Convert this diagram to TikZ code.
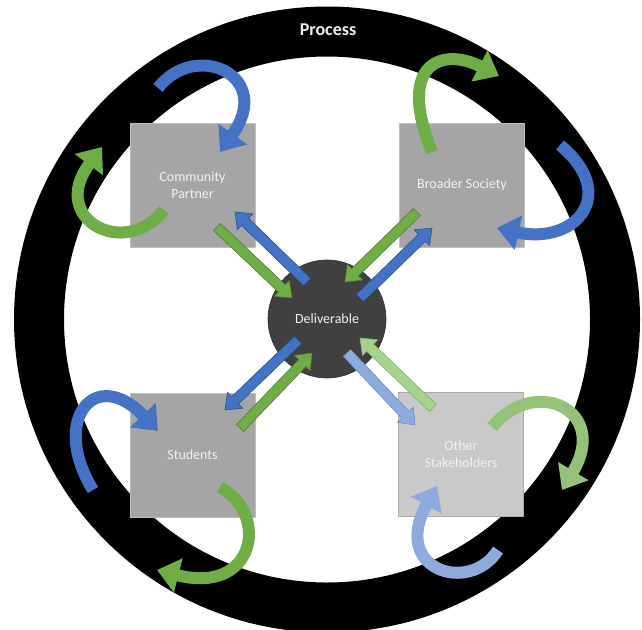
\documentclass[tikz,border=0pt]{standalone}
\usepackage{fontspec}
\setmainfont{Carlito}
\usetikzlibrary{arrows.meta,calc}

\definecolor{accBlue}{HTML}{4472C4}
\definecolor{accBlueEdge}{HTML}{2F528F}
\definecolor{accGreen}{HTML}{70AD47}
\definecolor{accGreenEdge}{HTML}{507E32}
\definecolor{softBlue}{HTML}{8FAADC}
\definecolor{softBlueEdge}{HTML}{6F8FC9}
\definecolor{softGreen}{HTML}{A9D18E}
\definecolor{softGreenEdge}{HTML}{86B36B}
\definecolor{midGreen}{HTML}{96C178}
\definecolor{boxFill}{HTML}{A5A5A5}
\definecolor{boxEdge}{HTML}{BFBFBF}
\definecolor{boxLight}{HTML}{C9C9C9}
\definecolor{boxLightEdge}{HTML}{ABABAB}
\definecolor{hubFill}{HTML}{404040}
\definecolor{hubEdge}{HTML}{2E2E2E}
\definecolor{labelText}{HTML}{F0F0F0}

% straight block arrow: #1 style, #2 tail, #3 tip
\newcommand\blockarrow[3]{%
  \coordinate (ba-h) at ($(#3)!14pt!(#2)$);
  \filldraw[#1, line width=0.6pt, line join=miter]
    ($(#2)!5pt!90:(#3)$) -- ($(ba-h)!5pt!90:(#3)$) -- ($(ba-h)!11pt!90:(#3)$)
    -- (#3)
    -- ($(ba-h)!11pt!-90:(#3)$) -- ($(ba-h)!5pt!-90:(#3)$) -- ($(#2)!5pt!-90:(#3)$)
    -- cycle;}

\begin{document}
\begin{tikzpicture}[x=1pt,y=-1pt,
  entity/.style={rectangle, draw=boxEdge, line width=0.8pt, fill=boxFill,
    minimum width=125pt, minimum height=124pt, inner sep=0pt,
    text=labelText, align=center, font=\fontsize{14}{17}\selectfont},
  hub/.style={circle, fill=hubFill, draw=hubEdge, line width=0.6pt,
    minimum size=118pt, inner sep=0pt, text=labelText,
    font=\fontsize{14}{17}\selectfont},
  cycarrow/.style={line width=12pt, -{Triangle[length=22pt,width=34pt]}},
  blueArrow/.style={fill=accBlue, draw=accBlueEdge},
  greenArrow/.style={fill=accGreen, draw=accGreenEdge},
  softBlueArrow/.style={fill=softBlue, draw=softBlueEdge},
  softGreenArrow/.style={fill=softGreen, draw=softGreenEdge}]

\useasboundingbox (0,0) rectangle (642,629);
\clip (0,0) rectangle (642,629);

% process ring
\fill[black, even odd rule] (327,319.5) circle[radius=313pt]
                           (327,319.5) circle[radius=263pt];
\node[text=labelText, font=\fontsize{18}{20}\selectfont\bfseries] (proc) at (328,30) {Process};

% participants
\node[entity] (cp) at (192.5,185) {Community\\Partner};
\node[entity] (bs) at (462,185) {Broader Society};
\node[entity] (st) at (192.5,455) {Students};
\node[entity, fill=boxLight, draw=boxLightEdge] (os) at (461,454.5) {Other\\Stakeholders};

% shared deliverable
\node[hub] (del) at (327,319) {Deliverable};

% curved cycles between each participant and the process ring
\draw[cycarrow, draw=accBlue]  (158,88)  .. controls (195,40)  and (275,75)  .. (220,152);
\draw[cycarrow, draw=accGreen] (164,210) .. controls (125,260) and (48,219)  .. (102,147);
\draw[cycarrow, draw=accGreen] (432,152) .. controls (395,60)  and (445,48)  .. (499,76);
\draw[cycarrow, draw=accBlue]  (560,145) .. controls (620,195) and (575,245) .. (497,228);
\draw[cycarrow, draw=accBlue]  (93,490)  .. controls (50,420)  and (95,365)  .. (158,431);
\draw[cycarrow, draw=accGreen] (220,487) .. controls (270,515) and (255,595) .. (157,570);
\draw[cycarrow, draw=midGreen] (492,427) .. controls (535,375) and (610,410) .. (562,490);
\draw[cycarrow, draw=softBlue] (498,550) .. controls (470,595) and (390,570) .. (437,486);

% exchange arrow end points
\coordinate (cpOutTail) at (307,282); \coordinate (cpOutTip) at (235,212);
\coordinate (cpInTail)  at (217,227); \coordinate (cpInTip)  at (292,298);
\coordinate (bsInTail)  at (417,212); \coordinate (bsInTip)  at (345,282);
\coordinate (bsOutTail) at (360,298); \coordinate (bsOutTip) at (432,228);
\coordinate (stOutTail) at (298,340); \coordinate (stOutTip) at (225,410);
\coordinate (stInTail)  at (240,428); \coordinate (stInTip)  at (312,353);
\coordinate (osOutTail) at (347,353); \coordinate (osOutTip) at (415,425);
\coordinate (osInTail)  at (433,408); \coordinate (osInTip)  at (360,338);

\blockarrow{blueArrow}{cpOutTail}{cpOutTip}
\blockarrow{greenArrow}{cpInTail}{cpInTip}
\blockarrow{greenArrow}{bsInTail}{bsInTip}
\blockarrow{blueArrow}{bsOutTail}{bsOutTip}
\blockarrow{blueArrow}{stOutTail}{stOutTip}
\blockarrow{greenArrow}{stInTail}{stInTip}
\blockarrow{softBlueArrow}{osOutTail}{osOutTip}
\blockarrow{softGreenArrow}{osInTail}{osInTip}

\end{tikzpicture}
\end{document}
